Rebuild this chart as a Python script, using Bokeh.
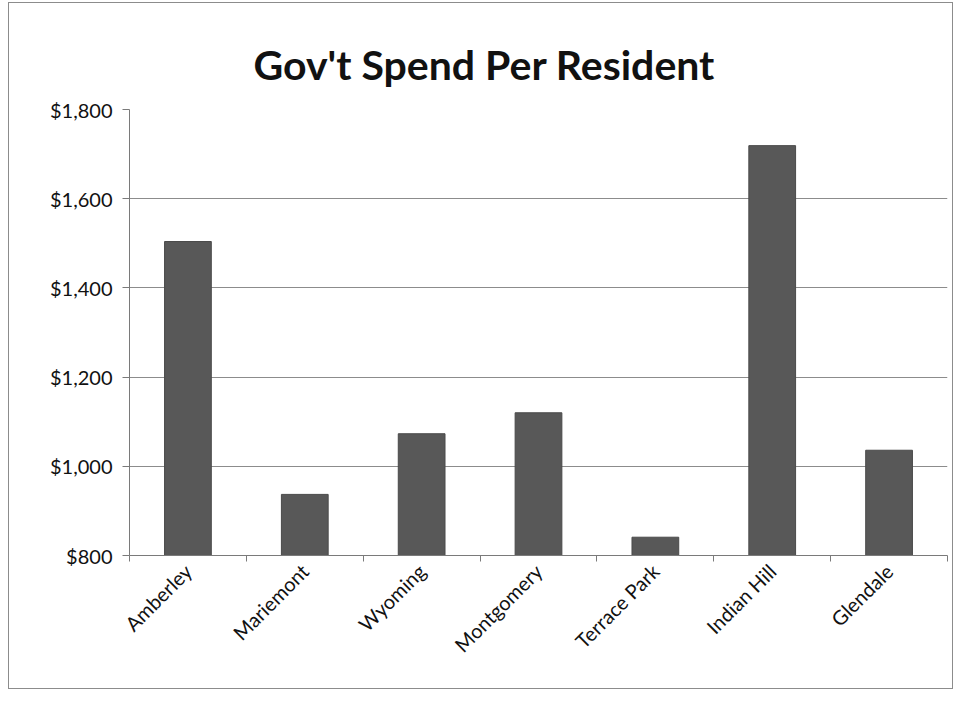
from bokeh.plotting import figure
from bokeh.models import ColumnDataSource, FixedTicker, NumeralTickFormatter, Range1d, Title
from bokeh.embed import file_html
from bokeh.resources import INLINE
import math

# ---- data ----
towns = ["Amberley", "Mariemont", "Wyoming", "Montgomery", "Terrace Park", "Indian Hill", "Glendale"]
spend = [1504, 937, 1073, 1120, 841, 1719, 1036]
y_ticks = [800, 1000, 1200, 1400, 1600, 1800]
title_text = "Gov't Spend Per Resident"

centers = [i + 0.5 for i in range(len(towns))]
bounds = list(range(len(towns) + 1))
src = ColumnDataSource(dict(x=centers, top=spend, name=towns))

p = figure(width=945, height=687, output_backend="svg", toolbar_location=None,
           x_range=Range1d(0, len(towns)), y_range=Range1d(800, 1800),
           min_border_left=120, min_border_right=7, min_border_top=106, min_border_bottom=135)
p.margin = (2, 0, 0, 8)
p.styles = {"border": "1px solid #8c8c8c"}

p.title = Title(text=title_text, align="left", text_font="Lato", text_font_size="41px",
                text_font_style="bold", text_color="#111111", standoff=41, offset=124)

p.vbar(x="x", top="top", bottom=800, width=0.4, source=src, fill_color="#585858", line_color="#4a4a4a")

p.outline_line_color = None
p.background_fill_color = "white"
p.border_fill_color = "white"

# y axis
p.yaxis.ticker = FixedTicker(ticks=y_ticks)
p.yaxis.formatter = NumeralTickFormatter(format="$0,0")
p.yaxis.major_label_text_font = "Lato"
p.yaxis.major_label_text_font_size = "20px"
p.yaxis.major_label_text_color = "#111111"
p.yaxis.major_tick_out = 7
p.yaxis.major_tick_in = 0
p.yaxis.minor_tick_line_color = None
p.yaxis.axis_line_color = "#7a7a7a"
p.yaxis.major_tick_line_color = "#7a7a7a"
p.yaxis.major_label_standoff = 10

# x axis
p.xaxis.ticker = FixedTicker(ticks=centers, minor_ticks=bounds)
p.xaxis.major_label_overrides = {c: t for c, t in zip(centers, towns)}
p.xaxis.major_tick_line_color = None
p.xaxis.minor_tick_line_color = "#7a7a7a"
p.xaxis.minor_tick_out = 6
p.xaxis.minor_tick_in = 0
p.xaxis.axis_line_color = "#7a7a7a"
p.xaxis.major_label_orientation = math.pi / 4
p.xaxis.major_label_text_font = "Lato"
p.xaxis.major_label_text_font_size = "20px"
p.xaxis.major_label_text_color = "#111111"
p.xaxis.major_label_standoff = 6

p.xgrid.grid_line_color = None
p.ygrid.grid_line_color = "#8c8c8c"
p.ygrid.ticker = FixedTicker(ticks=y_ticks)

open("out.html", "w").write(file_html(p, INLINE))
